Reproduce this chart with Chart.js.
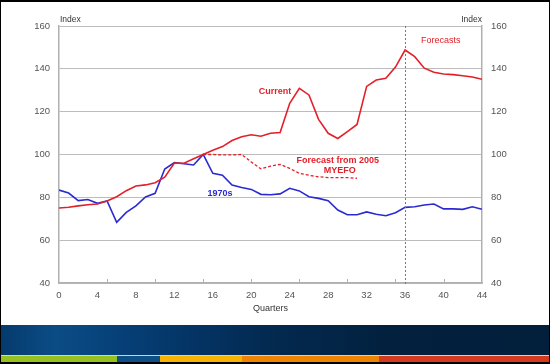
<!DOCTYPE html>
<html>
<head>
<meta charset="utf-8">
<script src="https://cdn.jsdelivr.net/npm/chart.js@4.4.0/dist/chart.umd.min.js"></script>
<style>
  html, body { margin: 0; padding: 0; background: #fff; }
  #frame { position: relative; width: 550px; height: 364px; overflow: hidden; background: #fff; }
  #chart { position: absolute; left: 0; top: 0; }
  #banner { position: absolute; left: 0; top: 325px; width: 550px; height: 30px;
    background: linear-gradient(90deg, #053a6c 0%, #0b4c86 10%, #064077 22%, #043465 35%, #03294f 50%, #02213f 70%, #021f3c 100%); }
  #line { position: absolute; left: 0; top: 355px; width: 550px; height: 1px; background: #c8d4de; }
  .stripe { position: absolute; top: 356px; height: 7px; }
  #edge { position: absolute; left: 0; top: 0; width: 549px; height: 362px; border-style: solid; border-color: #000;
    border-width: 2px 1px 2px 1px; box-sizing: border-box; width: 550px; height: 364px; pointer-events: none; }
</style>
</head>
<body>
<div id="frame">
  <canvas id="chart" width="550" height="325"></canvas>
  <div id="banner"></div>
  <div id="line"></div>
  <div class="stripe" style="left:0;width:117px;background:#97c11f"></div>
  <div class="stripe" style="left:117px;width:43px;background:#0e4f86"></div>
  <div class="stripe" style="left:160px;width:82px;background:#f6b400"></div>
  <div class="stripe" style="left:242px;width:137px;background:#ee8400"></div>
  <div class="stripe" style="left:379px;width:171px;background:#d43a1e"></div>
  <div id="edge"></div>
</div>
<script>
/* datos del grafico */
const quarters = [0,1,2,3,4,5,6,7,8,9,10,11,12,13,14,15,16,17,18,19,20,21,22,
  23,24,25,26,27,28,29,30,31,32,33,34,35,36,37,38,39,40,41,42,43,44];

const current = [75,75.4,76,76.5,76.9,78.3,80.3,83.1,85.3,85.8,86.8,89.4,96,95.9,98,100,
  102,103.7,106.5,108.3,109.2,108.5,109.9,110.3,123.9,130.9,127.8,116.4,109.9,107.5,110.7,
  114,131.8,134.8,135.6,140.8,148.8,145.7,140.3,138.4,137.6,137.3,136.8,136.2,135.1];

const seventies = [83.4,82,78.5,79,77.2,78.3,68.3,73,76,80.2,81.9,93.2,96.2,95.7,95.1,100,
  91.2,90.3,85.7,84.6,83.7,81.4,81.2,81.6,84.2,83,80.3,79.5,78.4,74.1,71.9,71.9,73.2,72.1,
  71.4,72.8,75.3,75.6,76.4,76.9,74.6,74.6,74.4,75.6,74.4];

const myefoQuarters = [15,16,17,18,19,20,21,22,23,24,25,26,27,28,29,30,31];
const myefo = [100,100,99.8,99.8,100,96.5,93.3,94.6,95.4,93.5,91.2,90.3,89.6,89.2,89.2,89.2,88.9];

const xTicks = [0,4,8,12,16,20,24,28,32,36,40,44];
const yTicks = [40,60,80,100,120,140,160];
const smallTicks = [5,10,15,20,25,30,35,40];
const forecastStart = 36;

const RED = "#e3202a";
const BLUE = "#2a2ad2";
const GRIS = "#555555";
const FONT = "'Liberation Sans', Arial, sans-serif";

const puntos = (xs, ys) => xs.map((x, i) => ({ x: x, y: ys[i] }));

/* textos y marcas extra */
const extras = {
  id: "extras",
  afterDraw(chart) {
    const ctx = chart.ctx;
    const xs = chart.scales.x;
    const ys = chart.scales.y;
    const area = chart.chartArea;
    ctx.save();

    // marcas pequenas del eje x
    ctx.strokeStyle = "#b0b0b0";
    ctx.lineWidth = 1;
    smallTicks.forEach((t) => {
      const px = Math.round(xs.getPixelForValue(t)) + 0.5;
      ctx.beginPath();
      ctx.moveTo(px, area.bottom);
      ctx.lineTo(px, area.bottom - 4);
      ctx.stroke();
    });

    // linea punteada de pronostico
    const fx = Math.round(xs.getPixelForValue(forecastStart)) + 0.5;
    ctx.strokeStyle = "#777";
    ctx.setLineDash([2, 2]);
    ctx.beginPath();
    ctx.moveTo(fx, area.top);
    ctx.lineTo(fx, area.bottom + 2);
    ctx.stroke();
    ctx.setLineDash([]);

    // Index
    ctx.fillStyle = "#333";
    ctx.font = "8.5px " + FONT;
    ctx.textBaseline = "middle";
    ctx.textAlign = "left";
    ctx.fillText("Index", area.left + 1, area.top - 6);
    ctx.textAlign = "right";
    ctx.fillText("Index", area.right, area.top - 6);

    // etiquetas
    const texto = (t, q, v, color, bold) => {
      ctx.fillStyle = color;
      ctx.font = (bold ? "bold " : "") + "9px " + FONT;
      ctx.textAlign = "center";
      ctx.fillText(t, xs.getPixelForValue(q), ys.getPixelForValue(v));
    };
    texto("Current", 22.47, 129.2, RED, true);
    texto("Forecast from 2005", 29.0, 97.1, RED, true);
    texto("MYEFO", 29.2, 92.3, RED, true);
    texto("1970s", 16.75, 82, BLUE, true);
    texto("Forecasts", 39.7, 153, RED, false);
    ctx.restore();
  },
};

const ctxChart = document.getElementById("chart").getContext("2d");

const chart = new Chart(ctxChart, {
  type: "line",
  data: {
    datasets: [
      {
        label: "Current",
        data: puntos(quarters, current),
        borderColor: RED,
        borderWidth: 1.6,
        pointRadius: 0,
        tension: 0,
      },
      {
        label: "Forecast from 2005 MYEFO",
        data: puntos(myefoQuarters, myefo),
        borderColor: RED,
        borderWidth: 1.3,
        borderDash: [3, 2],
        pointRadius: 0,
        tension: 0,
      },
      {
        label: "1970s",
        data: puntos(quarters, seventies),
        borderColor: BLUE,
        borderWidth: 1.6,
        pointRadius: 0,
        tension: 0,
      },
    ],
  },
  options: {
    responsive: false,
    animation: false,
    devicePixelRatio: 1,
    layout: { padding: { top: 26, left: 0, right: 0, bottom: 0 } },
    plugins: {
      legend: { display: false },
      tooltip: { enabled: false },
    },
    scales: {
      x: {
        type: "linear",
        min: 0,
        max: 44,
        afterBuildTicks: (s) => { s.ticks = xTicks.map((v) => ({ value: v })); },
        afterFit: (s) => { s.height = 42; },
        grid: { display: false, drawTicks: false },
        border: { display: true, color: "#b0b0b0", width: 1.5 },
        ticks: { color: GRIS, font: { family: FONT, size: 9.5 }, padding: 7, maxRotation: 0 },
        title: {
          display: true,
          text: "Quarters",
          color: "#333",
          font: { family: FONT, size: 9 },
          padding: { top: 0, bottom: 11 },
        },
      },
      y: {
        position: "left",
        min: 40,
        max: 160,
        afterBuildTicks: (s) => { s.ticks = yTicks.map((v) => ({ value: v })); },
        afterFit: (s) => { s.width = 59; },
        grid: { color: "#bcbcbc", lineWidth: 1, drawTicks: false },
        border: { display: true, color: "#b0b0b0", width: 1.5 },
        ticks: { color: GRIS, font: { family: FONT, size: 9.5 }, padding: 9 },
      },
      y2: {
        position: "right",
        min: 40,
        max: 160,
        afterBuildTicks: (s) => { s.ticks = yTicks.map((v) => ({ value: v })); },
        afterFit: (s) => { s.width = 68; },
        grid: { display: false, drawTicks: false },
        border: { display: true, color: "#b0b0b0", width: 1.5 },
        ticks: { color: GRIS, font: { family: FONT, size: 9.5 }, padding: 9 },
      },
    },
  },
  plugins: [extras],
});
</script>
</body>
</html>
